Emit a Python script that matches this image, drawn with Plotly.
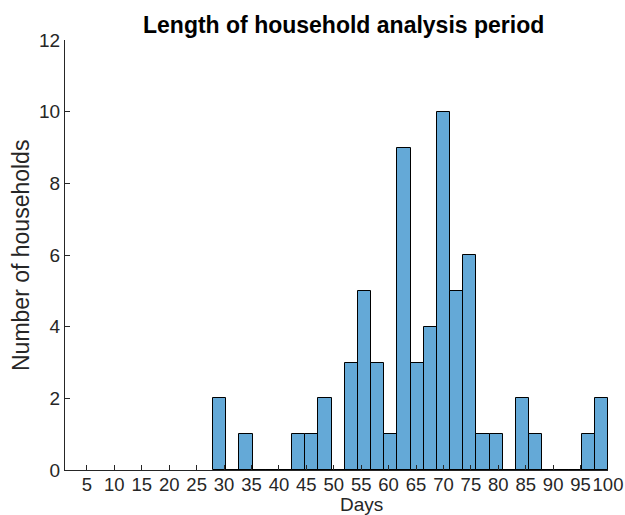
import plotly.graph_objects as go

# Histogram of analysis-period lengths: 30 equal bins from 28 to 100 days
bin_start = 28.0
bin_width = 2.4
counts = [2, 0, 1, 0, 0, 0, 1, 1, 2, 0,
          3, 5, 3, 1, 9, 3, 4, 10, 5, 6,
          1, 1, 0, 2, 1, 0, 0, 0, 1, 2]
x_ticks = list(range(5, 101, 5))
y_ticks = list(range(0, 13, 2))

centers = [bin_start + bin_width * (i + 0.5) for i in range(len(counts))]
edges = [bin_start, bin_start + bin_width * len(counts)]

AX = "#262626"
FONT = "Liberation Sans, Arial, Helvetica, sans-serif"

W, H = 625, 515
L, R, T, B = 65, 17, 40, 45
plot_w, plot_h = W - L - R, H - T - B


def px_x(px):
    return (px - L) / plot_w


def px_y(py):
    return (H - B - py) / plot_h


fig = go.Figure()
fig.add_trace(go.Bar(
    x=centers, y=counts, width=bin_width,
    marker=dict(color="rgb(100,169,215)", line=dict(color="black", width=1)),
    hoverinfo="x+y", showlegend=False,
))
# outline of empty bins along the baseline
fig.add_trace(go.Scatter(
    x=edges, y=[0, 0], mode="lines",
    line=dict(color="black", width=1.5), showlegend=False, hoverinfo="skip",
))

fig.update_layout(
    width=W, height=H,
    margin=dict(l=L, r=R, t=T, b=B),
    paper_bgcolor="white", plot_bgcolor="white",
    font=dict(family=FONT, color=AX, size=19),
    bargap=0,
    annotations=[
        dict(text="<b>Length of household analysis period</b>", xref="paper", yref="paper",
             x=px_x(343), y=px_y(25), xanchor="center", yanchor="middle",
             showarrow=False, font=dict(size=23, color="black", family=FONT)),
        dict(text="Days", xref="paper", yref="paper",
             x=px_x(361), y=px_y(505), xanchor="center", yanchor="middle",
             showarrow=False, font=dict(size=19, color=AX, family=FONT)),
        dict(text="Number of households", xref="paper", yref="paper",
             x=px_x(21), y=px_y(256), xanchor="center", yanchor="middle",
             textangle=-90, showarrow=False, font=dict(size=23, color=AX, family=FONT)),
    ],
)
fig.update_xaxes(
    range=[1, 100], tickvals=x_ticks, ticktext=[str(v) for v in x_ticks],
    ticks="inside", ticklen=5, tickcolor=AX, tickwidth=1, tickangle=0,
    ticklabelstandoff=-2,
    showline=True, linecolor=AX, linewidth=1, showgrid=False, zeroline=False,
    tickfont=dict(size=18.5, color=AX), automargin=False,
)
fig.update_yaxes(
    range=[0, 12], tickvals=y_ticks,
    ticks="inside", ticklen=5, tickcolor=AX, tickwidth=1,
    showline=True, linecolor=AX, linewidth=1, showgrid=False, zeroline=False,
    tickfont=dict(size=19, color=AX), automargin=False,
)

fig.write_html("out.html")
